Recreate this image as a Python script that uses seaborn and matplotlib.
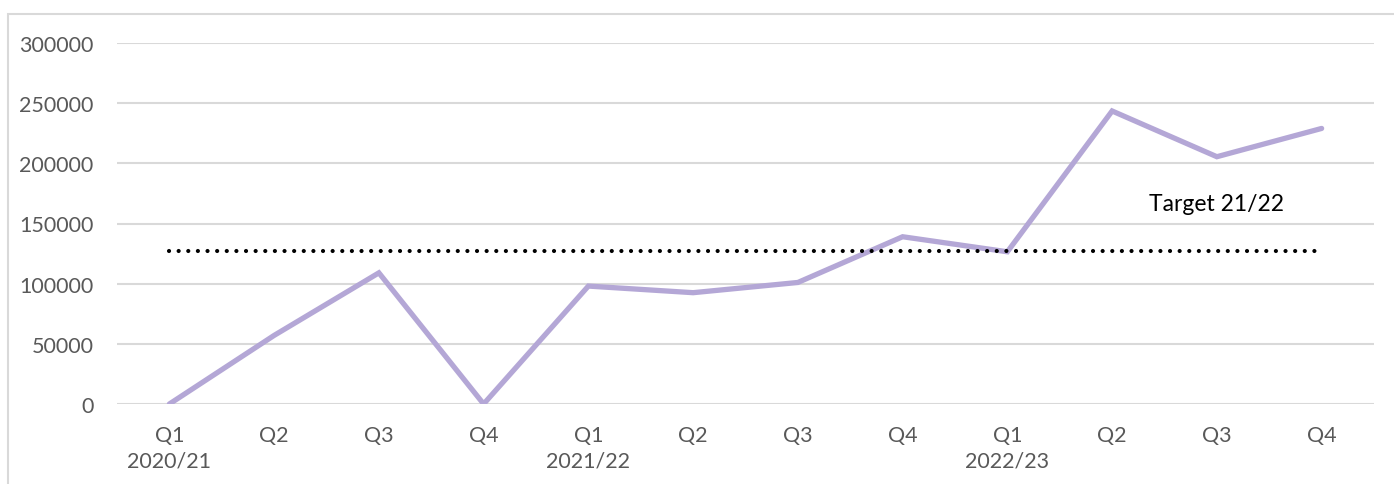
import matplotlib
matplotlib.use("Agg")
import matplotlib.pyplot as plt
from matplotlib.patches import Rectangle
import seaborn as sns
import pandas as pd

# Quarterly figures across three financial years
quarters = ["Q1", "Q2", "Q3", "Q4"] * 3
years = ["2020/21", "", "", "", "2021/22", "", "", "", "2022/23", "", "", ""]
values = [0, 57000, 109000, 0, 98000, 92500, 101000, 139000, 126500, 243500, 205500, 229000]
target_value = 127500
target_label = "Target 21/22"
y_ticks = [0, 50000, 100000, 150000, 200000, 250000, 300000]

sns.set_theme(style="white")
plt.rcParams["font.family"] = ["Lato", "DejaVu Sans"]

df = pd.DataFrame({"pos": range(len(values)), "value": values})
tick_labels = [q if not y else f"{q}\n{y}" for q, y in zip(quarters, years)]

fig = plt.figure(figsize=(13.94, 4.85), dpi=100)
ax = fig.add_axes([117 / 1394, 80 / 485, (1374 - 117) / 1394, (405 - 44) / 485])

sns.lineplot(data=df, x="pos", y="value", ax=ax, color="#b4a7d6",
             linewidth=3.8, solid_joinstyle="miter", zorder=3)

# Target reference as a dotted line across all quarters
sns.lineplot(x=[0, len(values) - 1], y=[target_value, target_value], ax=ax,
             color="black", linewidth=3.0, dashes=False, zorder=4)
ax.lines[-1].set_linestyle((0, (0.01, 2.3)))
ax.lines[-1].set_dash_capstyle("round")

ax.text(10, 161000, target_label, ha="center", va="baseline",
        fontsize=16.5, color="black")

ax.set_xlim(-0.5, len(values) - 0.5)
ax.set_ylim(0, 300000)
ax.set_yticks(y_ticks)
ax.set_yticklabels([str(v) for v in y_ticks])
ax.set_xticks(range(len(values)))
ax.set_xticklabels(tick_labels, linespacing=1.35)
ax.tick_params(axis="y", length=0, pad=17, labelsize=15.5, labelcolor="#595959")
ax.tick_params(axis="x", length=0, pad=15, labelsize=15.5, labelcolor="#595959")
ax.set_xlabel("")
ax.set_ylabel("")
ax.grid(axis="y", color="#d9d9d9", linewidth=1.5)
ax.set_axisbelow(True)
for s in ax.spines.values():
    s.set_visible(False)

# Light chart frame (top and left edges visible)
fig.patches.append(Rectangle((7.5 / 1394, -0.1), 1.2, 1.1 - 14.5 / 485,
                             transform=fig.transFigure, fill=False,
                             edgecolor="#d9d9d9", linewidth=1.5))

fig.savefig("out.png", dpi=100)
